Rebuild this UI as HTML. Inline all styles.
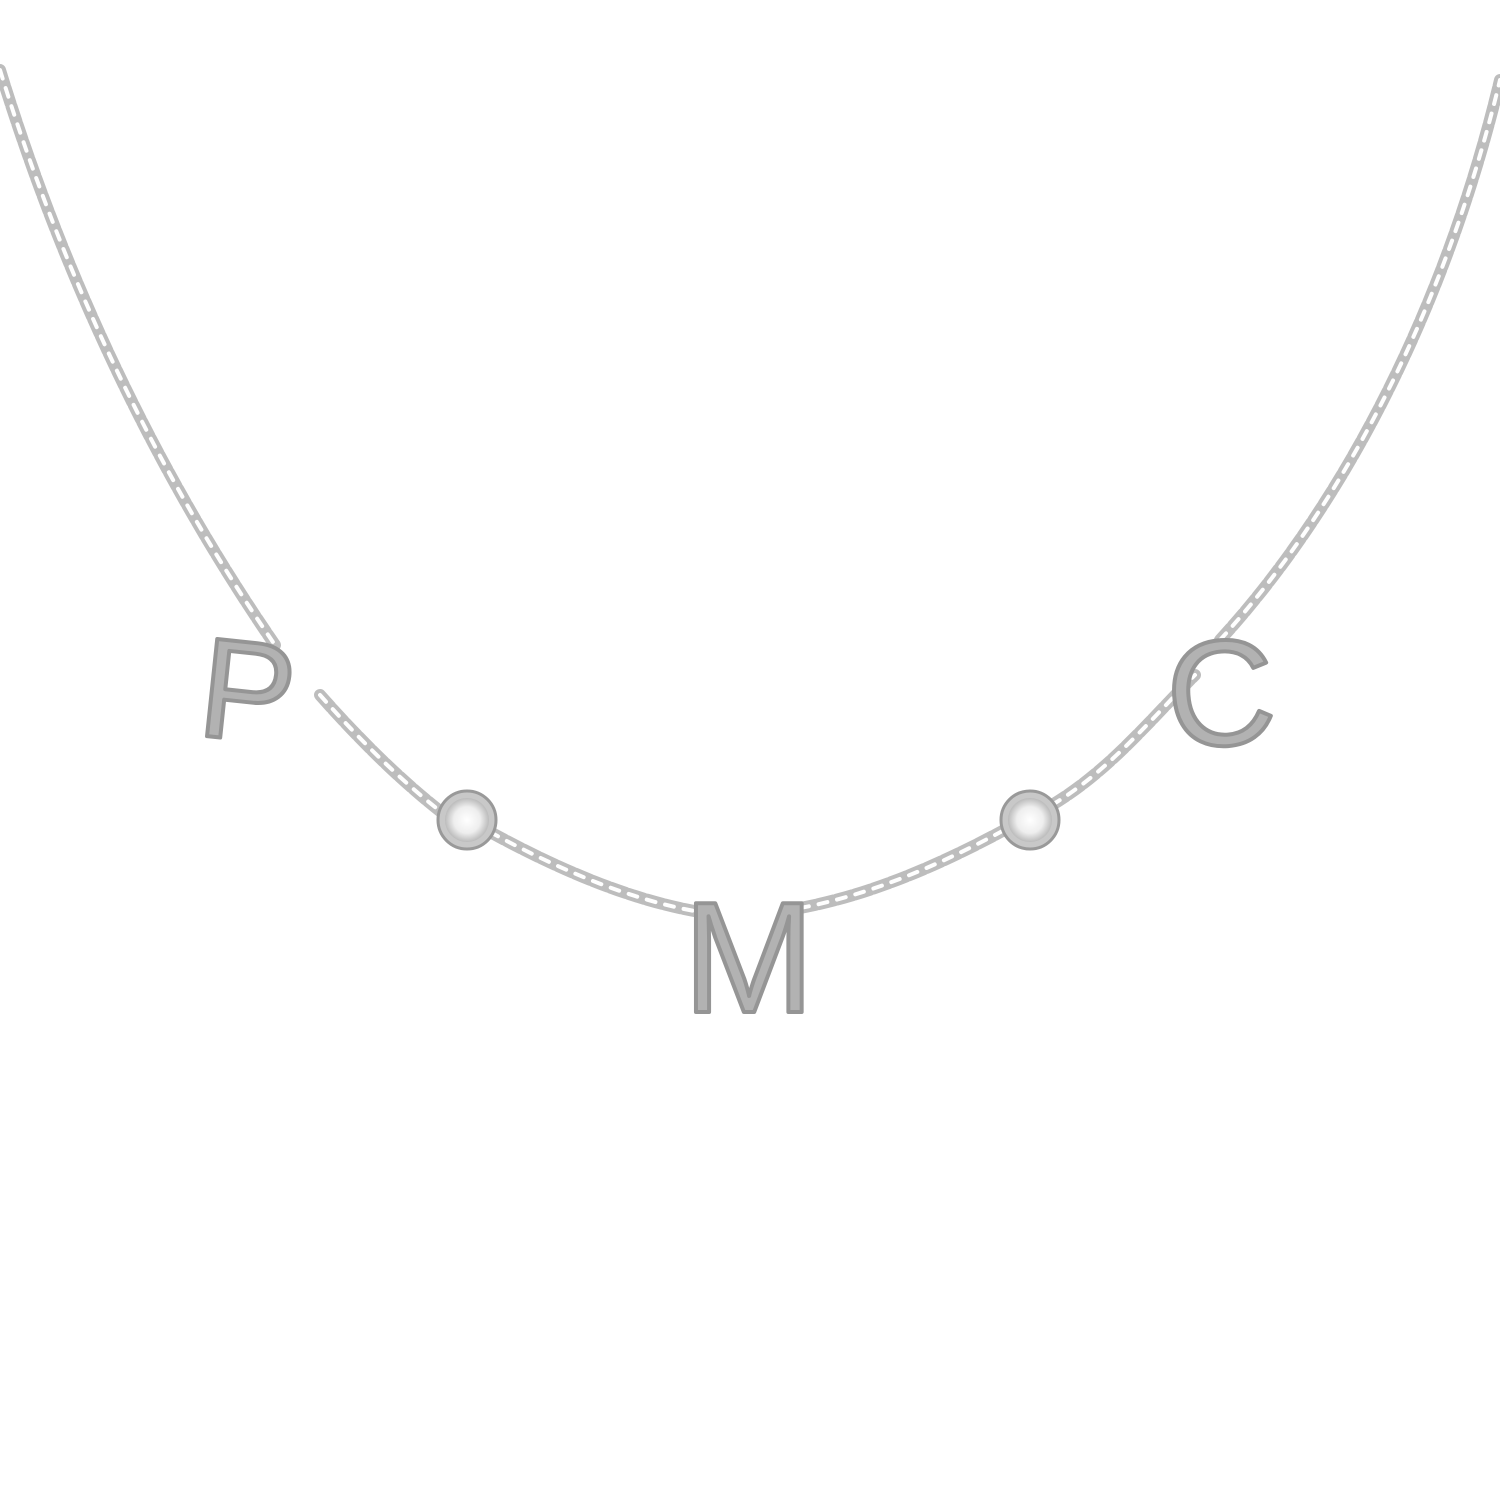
<!DOCTYPE html>
<html><head><meta charset="utf-8"><style>
html,body{margin:0;padding:0;background:#fff;}
svg{display:block}
</style></head><body>
<svg width="1500" height="1500" viewBox="0 0 1500 1500" xmlns="http://www.w3.org/2000/svg">
<defs>
<radialGradient id="st" cx="50%" cy="50%" r="50%">
<stop offset="0" stop-color="#fff"/><stop offset="0.6" stop-color="#eee"/><stop offset="1" stop-color="#bbb"/>
</radialGradient>
</defs>
<g fill="none" stroke-linecap="round">
<g stroke="#bdbdbd" stroke-width="12" stroke-dasharray="16 3">
<path d="M0,70 C40,200 120,420 275,645"/>
<path d="M320,695 C360,740 400,780 445,815"/>
<path d="M490,832 C560,870 630,900 700,912"/>
<path d="M800,908 C870,895 940,865 1008,828"/>
<path d="M1052,805 C1110,770 1150,720 1195,675"/>
<path d="M1220,640 C1330,520 1440,330 1500,80"/>
</g>
<g stroke="#fff" stroke-width="4" stroke-dasharray="9 10">
<path d="M0,70 C40,200 120,420 275,645"/>
<path d="M320,695 C360,740 400,780 445,815"/>
<path d="M490,832 C560,870 630,900 700,912"/>
<path d="M800,908 C870,895 940,865 1008,828"/>
<path d="M1052,805 C1110,770 1150,720 1195,675"/>
<path d="M1220,640 C1330,520 1440,330 1500,80"/>
</g>
</g>
<circle cx="467" cy="820" r="29" fill="#c8c8c8" stroke="#999" stroke-width="3"/>
<circle cx="467" cy="820" r="22" fill="url(#st)"/>
<circle cx="1030" cy="820" r="29" fill="#c8c8c8" stroke="#999" stroke-width="3"/>
<circle cx="1030" cy="820" r="22" fill="url(#st)"/>
<g font-family="Liberation Sans, sans-serif" fill="#b2b2b2" stroke="#959595" stroke-width="4" stroke-linejoin="round">
<text x="200" y="742" font-size="142" transform="rotate(6 265 695)">P</text>
<text x="683" y="1012" font-size="158">M</text>
<text x="1166" y="744" font-size="150" transform="rotate(-4 1235 685)">C</text>
</g>
</svg>
</body></html>
